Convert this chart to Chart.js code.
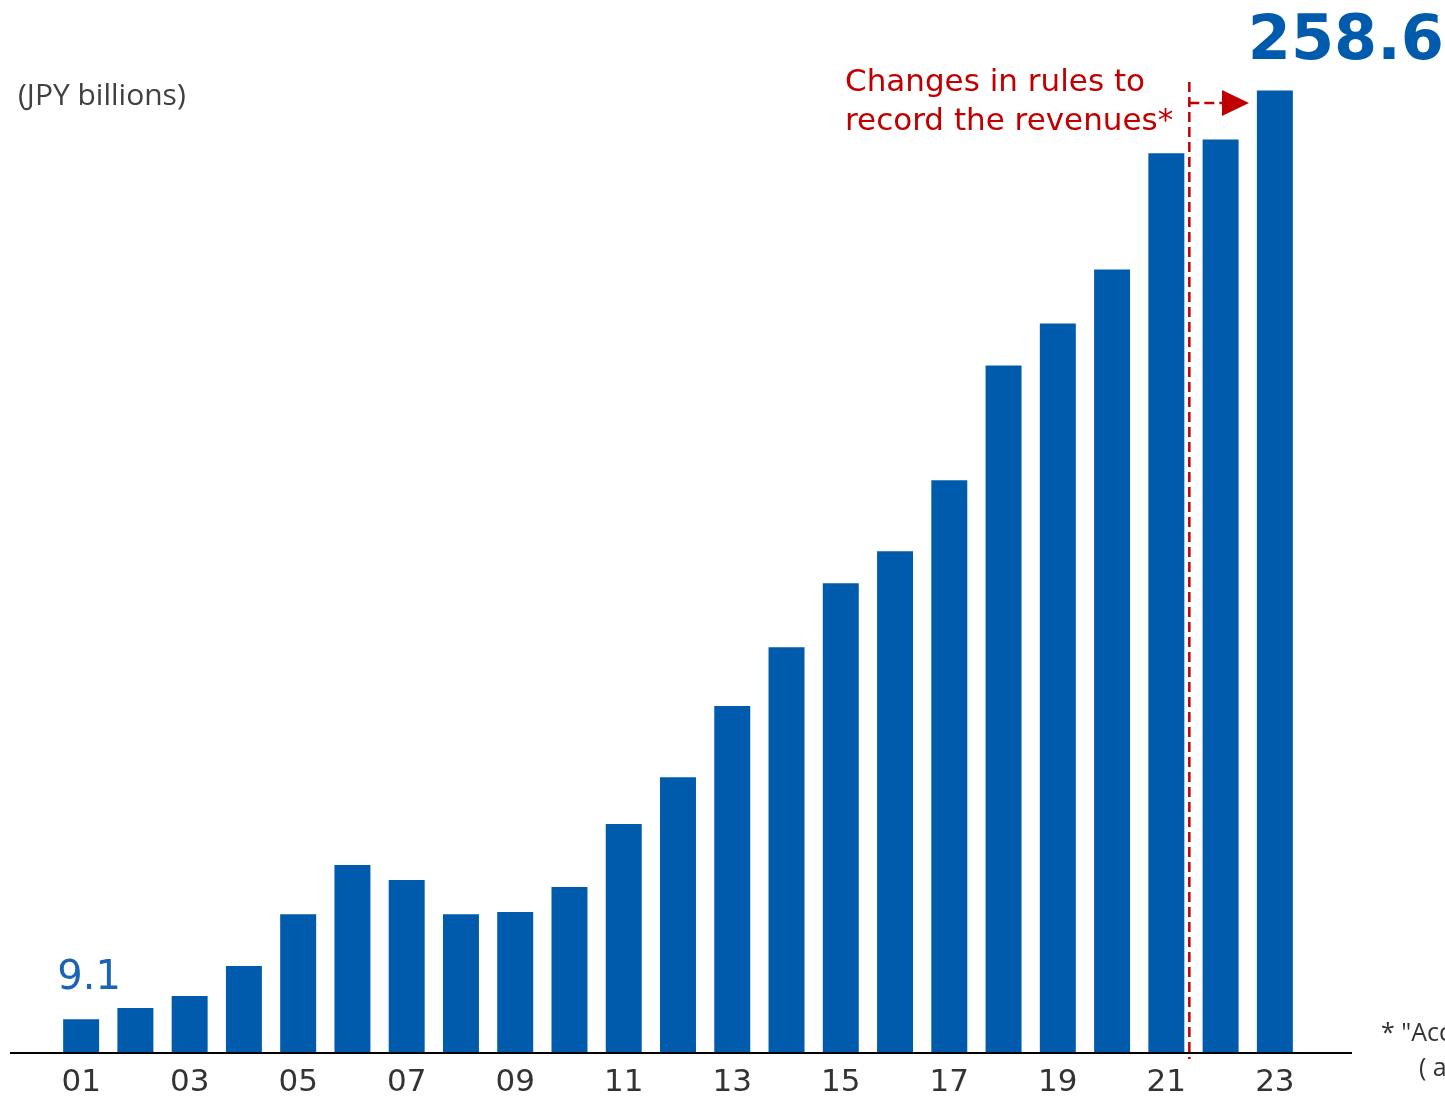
<!DOCTYPE html>
<html>
<head>
<meta charset="utf-8">
<script src="https://cdn.jsdelivr.net/npm/chart.js@4/dist/chart.umd.min.js"></script>
<style>
  html, body { margin: 0; padding: 0; background: #fff; }
  #wrap { position: relative; width: 1445px; height: 1099px; }
</style>
</head>
<body>
<div id="wrap"><canvas id="revenueChart" width="1445" height="1099"></canvas></div>
<script>
// Revenue by fiscal year (JPY billions)
const years = ['01','02','03','04','05','06','07','08','09','10','11','12',
               '13','14','15','16','17','18','19','20','21','22','23'];
const revenues = [9.1, 12.1, 15.3, 23.4, 37.3, 50.5, 46.5, 37.3, 37.9, 44.6, 61.5, 74.1,
                  93.2, 109.0, 126.2, 134.8, 153.9, 184.7, 196.0, 210.5, 241.7, 245.4, 258.6];
const yMax = 270;

const BLUE = '#005BAC';
const RED = '#C00000';
const FONT = '"DejaVu Sans", Verdana, sans-serif';

// Baseline, labels and the rule-change annotation
const annotations = {
  id: 'annotations',
  afterDatasetsDraw(chart) {
    const ctx = chart.ctx;
    const y = chart.scales.y;
    const bars = chart.getDatasetMeta(0).data;
    const base = y.getPixelForValue(0);

    ctx.save();
    // baseline
    ctx.strokeStyle = '#000';
    ctx.lineWidth = 2;
    ctx.beginPath();
    ctx.moveTo(10, base);
    ctx.lineTo(1352, base);
    ctx.stroke();

    // unit label
    ctx.fillStyle = '#404040';
    ctx.font = '30px "Open Sans", sans-serif';
    ctx.textBaseline = 'middle';
    ctx.textAlign = 'left';
    ctx.fillText('(JPY billions)', 18, 96);

    // first and last values
    const first = bars[0];
    ctx.fillStyle = '#1B63B4';
    ctx.font = '40px ' + FONT;
    ctx.textAlign = 'center';
    ctx.textBaseline = 'alphabetic';
    ctx.fillText(revenues[0].toFixed(1), first.x + 8, first.y - 30);

    const last = bars[bars.length - 1];
    ctx.fillStyle = BLUE;
    ctx.font = 'bold 62px ' + FONT;
    ctx.fillText(revenues[revenues.length - 1].toFixed(1), last.x + 71, last.y - 31);

    // dashed separator between 21 and 22
    const b21 = bars[20];
    const sepX = b21.x + b21.width / 2 + 5;
    ctx.strokeStyle = RED;
    ctx.lineWidth = 2.5;
    ctx.setLineDash([10, 5]);
    ctx.beginPath();
    ctx.moveTo(sepX, 82);
    ctx.lineTo(sepX, base + 6);
    ctx.stroke();

    // dashed arrow to bar 23
    ctx.beginPath();
    ctx.moveTo(sepX, 103);
    ctx.lineTo(1222, 103);
    ctx.stroke();
    ctx.setLineDash([]);
    ctx.fillStyle = RED;
    ctx.beginPath();
    ctx.moveTo(1222, 90);
    ctx.lineTo(1249, 103);
    ctx.lineTo(1222, 116);
    ctx.closePath();
    ctx.fill();

    // note
    ctx.font = '31px ' + FONT;
    ctx.textAlign = 'left';
    ctx.textBaseline = 'middle';
    ctx.fillText('Changes in rules to', 845, 83);
    ctx.fillText('record the revenues*', 845, 122);

    // footnote (runs off the right edge)
    ctx.fillStyle = '#333';
    ctx.font = '25px "Open Sans", sans-serif';
    ctx.fillText('* "Accounting Standard for Revenue Recognition"', 1381, 1034);
    ctx.fillText('( applied from FY22 )', 1419, 1069);
    ctx.restore();
  }
};

new Chart(document.getElementById('revenueChart').getContext('2d'), {
  type: 'bar',
  data: {
    labels: years,
    datasets: [{
      data: revenues,
      backgroundColor: BLUE,
      borderWidth: 0,
      categoryPercentage: 1,
      barPercentage: 0.663
    }]
  },
  options: {
    responsive: false,
    animation: false,
    maintainAspectRatio: false,
    layout: { padding: { left: 54, right: 143, top: 48, bottom: -13 } },
    plugins: {
      legend: { display: false },
      tooltip: { enabled: false }
    },
    scales: {
      x: {
        border: { display: false },
        grid: { display: false, drawTicks: false, tickLength: 0 },
        ticks: {
          autoSkip: false,
          maxRotation: 0,
          padding: 14,
          color: '#333',
          font: { family: FONT, size: 31, lineHeight: 1 },
          callback: function(value, index) {
            return index % 2 === 0 ? years[index] : '';
          }
        }
      },
      y: {
        display: false,
        min: 0,
        max: yMax
      }
    }
  },
  plugins: [annotations]
});
</script>
</body>
</html>
